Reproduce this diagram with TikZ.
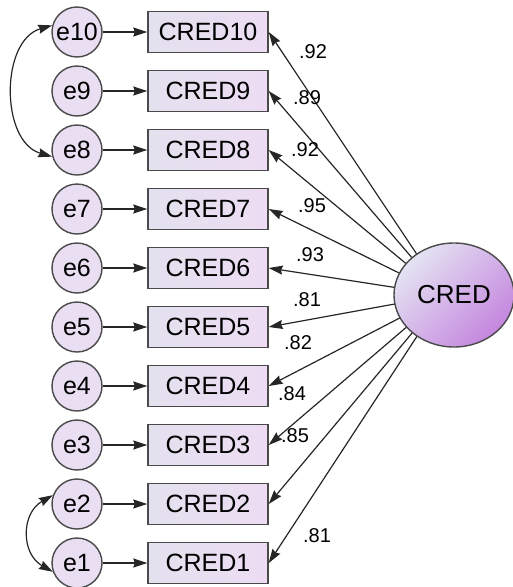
\documentclass[tikz,border=0pt]{standalone}
\usepackage{fontspec}
\setmainfont{Liberation Sans}
\usetikzlibrary{arrows.meta,shapes.geometric}
\definecolor{edgecol}{HTML}{4A4A4A}
\definecolor{efill}{HTML}{EADFF2}
\definecolor{rfillA}{HTML}{E3E1EE}
\definecolor{rfillB}{HTML}{EDDCF3}
\definecolor{ellA}{HTML}{E4E3F2}
\definecolor{ellB}{HTML}{C486DE}
\begin{document}
\begin{tikzpicture}[x=1pt,y=-1pt,
  errnode/.style={circle,draw=edgecol,line width=1.4pt,fill=efill,minimum size=50pt,inner sep=0pt,font=\fontsize{25}{29}\selectfont},
  obsnode/.style={rectangle,draw=edgecol,line width=1.4pt,left color=rfillA,right color=rfillB,minimum width=120pt,minimum height=41pt,inner sep=0pt,font=\fontsize{25}{29}\selectfont},
  latnode/.style={ellipse,draw=edgecol,line width=1.4pt,top color=ellA,bottom color=ellB,shading angle=45,minimum width=120pt,minimum height=104pt,inner sep=0pt,font=\fontsize{26}{30}\selectfont},
  arr/.style={-{Stealth[length=14pt,width=9pt,inset=1.5pt]},line width=1.2pt,draw=black!85},
  arrtwo/.style={{Stealth[length=14pt,width=9pt,inset=1.5pt]}-{Stealth[length=14pt,width=9pt,inset=1.5pt]},line width=1.2pt,draw=black!85},
  loading/.style={font=\fontsize{20}{24}\selectfont,inner sep=0pt}
]
\useasboundingbox (0,0) rectangle (513,587);
\foreach \i in {1,...,10} {
  \pgfmathsetmacro\yy{32+59*(10-\i)}
  \node[errnode] (e\i) at (77,\yy) {e\i};
  \node[obsnode] (r\i) at (208,\yy) {CRED\i};
  \draw[arr] (e\i) -- (r\i);
}
\coordinate (aim) at (444,295);
\foreach \i in {1,...,10} {
  \draw[arr] (aim) -- (r\i.east);
}
\node[latnode] (CRED) at (454,295) {CRED};
\draw[arrtwo] (e10.165) .. controls +(-52,15) and +(-52,-15) .. (e8.195);
\draw[arrtwo] (e2.160) .. controls +(-32,18) and +(-32,-18) .. (e1.200);
\node[loading] (l10) at (313,52) {.92};
\node[loading] (l9) at (307,98) {.89};
\node[loading] (l8) at (305,150) {.92};
\node[loading] (l7) at (312,206) {.95};
\node[loading] (l6) at (310,255) {.93};
\node[loading] (l5) at (307,300) {.81};
\node[loading] (l4) at (298,343) {.82};
\node[loading] (l3) at (292,394) {.84};
\node[loading] (l2) at (295,436) {.85};
\node[loading] (l1) at (317,536) {.81};
\end{tikzpicture}
\end{document}
